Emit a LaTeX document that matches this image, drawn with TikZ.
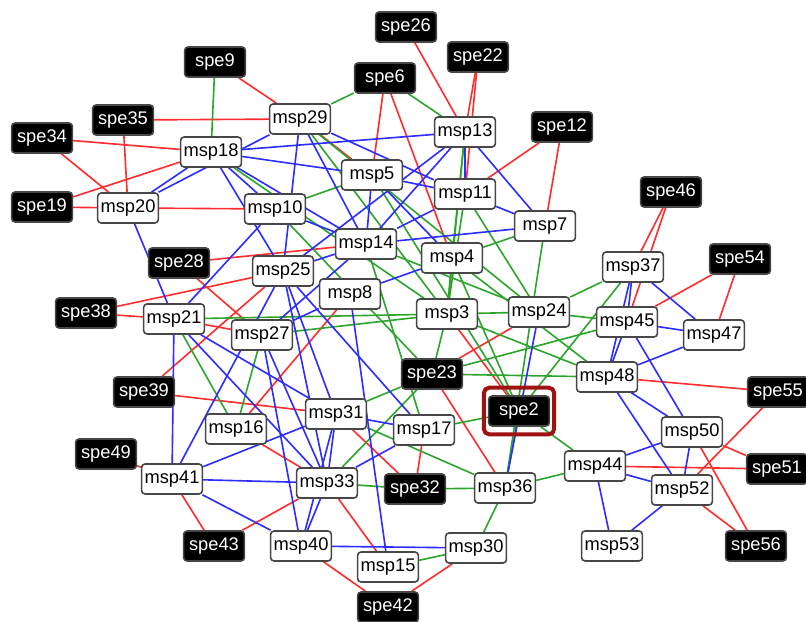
\documentclass[tikz,border=0pt]{standalone}
\usepackage{fontspec}
\setmainfont{Liberation Sans}
\usetikzlibrary{backgrounds}
\definecolor{linkred}{RGB}{255,45,45}
\definecolor{linkgreen}{RGB}{45,165,45}
\definecolor{linkblue}{RGB}{45,45,255}
\definecolor{hilite}{RGB}{160,18,18}

\begin{document}
\begin{tikzpicture}[x=0.025cm,y=-0.025cm,
  msp/.style={draw=black!72,fill=white,rounded corners=2.5pt,line width=1.15pt,
    minimum width=1.52cm,minimum height=0.75cm,inner sep=1pt,
    font=\fontsize{13}{15}\selectfont},
  spe/.style={msp,fill=black,text=white},
  rlink/.style={linkred,line width=1.15pt},
  glink/.style={linkgreen,line width=1.15pt},
  blink/.style={linkblue,line width=1.15pt}]
\useasboundingbox (0,0) rectangle (806,622);
\node[spe] (spe9) at (215,62) {spe9};
\node[spe] (spe26) at (406,27) {spe26};
\node[spe] (spe22) at (478,57) {spe22};
\node[spe] (spe6) at (385,78) {spe6};
\node[spe] (spe12) at (562,127) {spe12};
\node[spe] (spe35) at (123,120) {spe35};
\node[spe] (spe34) at (42,138) {spe34};
\node[spe] (spe19) at (42,207) {spe19};
\node[spe] (spe46) at (671,192) {spe46};
\node[spe] (spe54) at (740,259) {spe54};
\node[spe] (spe28) at (179,263) {spe28};
\node[spe] (spe38) at (86,313) {spe38};
\node[spe] (spe23) at (432,374) {spe23};
\node[spe] (spe39) at (144,392) {spe39};
\node[spe] (spe55) at (778,392) {spe55};
\node[spe] (spe2) at (519,411) {spe2};
\node[spe] (spe49) at (106,454) {spe49};
\node[spe] (spe32) at (415,489) {spe32};
\node[spe] (spe51) at (777,469) {spe51};
\node[spe] (spe43) at (214,546) {spe43};
\node[spe] (spe56) at (756,546) {spe56};
\node[spe] (spe42) at (388,607) {spe42};
\node[msp] (msp29) at (300,119) {msp29};
\node[msp] (msp18) at (211,152) {msp18};
\node[msp] (msp13) at (465,132) {msp13};
\node[msp] (msp5) at (372,175) {msp5};
\node[msp] (msp11) at (465,194) {msp11};
\node[msp] (msp20) at (128,208) {msp20};
\node[msp] (msp10) at (275,209) {msp10};
\node[msp] (msp7) at (545,226) {msp7};
\node[msp] (msp14) at (366,244) {msp14};
\node[msp] (msp4) at (452,258) {msp4};
\node[msp] (msp37) at (633,267) {msp37};
\node[msp] (msp25) at (283,271) {msp25};
\node[msp] (msp8) at (350,294) {msp8};
\node[msp] (msp21) at (174,319) {msp21};
\node[msp] (msp27) at (262,335) {msp27};
\node[msp] (msp3) at (447,314) {msp3};
\node[msp] (msp24) at (539,312) {msp24};
\node[msp] (msp45) at (627,322) {msp45};
\node[msp] (msp47) at (714,335) {msp47};
\node[msp] (msp48) at (607,377) {msp48};
\node[msp] (msp31) at (336,414) {msp31};
\node[msp] (msp16) at (236,429) {msp16};
\node[msp] (msp17) at (424,430) {msp17};
\node[msp] (msp50) at (692,432) {msp50};
\node[msp] (msp41) at (172,479) {msp41};
\node[msp] (msp33) at (327,483) {msp33};
\node[msp] (msp36) at (505,488) {msp36};
\node[msp] (msp44) at (595,466) {msp44};
\node[msp] (msp52) at (682,490) {msp52};
\node[msp] (msp40) at (301,546) {msp40};
\node[msp] (msp15) at (388,567) {msp15};
\node[msp] (msp30) at (476,548) {msp30};
\node[msp] (msp53) at (612,546) {msp53};
\draw[hilite,line width=0.1cm,rounded corners=4pt]
  ([xshift=-0.1cm,yshift=-0.19cm]spe2.south west) rectangle ([xshift=0.1cm,yshift=0.19cm]spe2.north east);
\begin{scope}[on background layer]
\draw[rlink] (spe9) -- (msp29);
\draw[rlink] (spe35) -- (msp29);
\draw[rlink] (spe35) -- (msp20);
\draw[rlink] (spe34) -- (msp18);
\draw[rlink] (spe34) -- (msp20);
\draw[rlink] (spe19) -- (msp18);
\draw[rlink] (spe19) -- (msp20);
\draw[rlink] (msp20) -- (msp10);
\draw[rlink] (spe26) -- (msp13);
\draw[rlink] (spe22) -- (msp13);
\draw[rlink] (spe22) -- (msp11);
\draw[rlink] (spe6) -- (msp5);
\draw[rlink] (spe6) -- (msp4);
\draw[rlink] (msp29) -- (msp5);
\draw[rlink] (spe12) -- (msp11);
\draw[rlink] (spe12) -- (msp7);
\draw[rlink] (spe46) -- (msp37);
\draw[rlink] (spe46) -- (msp45);
\draw[rlink] (spe54) -- (msp45);
\draw[rlink] (spe54) -- (msp47);
\draw[rlink] (spe28) -- (msp14);
\draw[rlink] (spe28) -- (msp27);
\draw[rlink] (spe38) -- (msp25);
\draw[rlink] (spe38) -- (msp21);
\draw[rlink] (msp21) -- (msp27);
\draw[rlink] (spe39) -- (msp25);
\draw[rlink] (spe39) -- (msp31);
\draw[rlink] (msp8) -- (msp16);
\draw[rlink] (msp16) -- (msp33);
\draw[rlink] (msp31) -- (spe32);
\draw[rlink] (msp17) -- (spe32);
\draw[rlink] (msp3) -- (spe2);
\draw[rlink] (spe23) -- (msp36);
\draw[rlink] (spe23) -- (msp24);
\draw[rlink] (msp48) -- (spe55);
\draw[rlink] (msp44) -- (spe51);
\draw[rlink] (msp50) -- (spe51);
\draw[rlink] (msp50) -- (spe56);
\draw[rlink] (msp52) -- (spe56);
\draw[rlink] (msp52) -- (spe55);
\draw[rlink] (spe49) -- (msp41);
\draw[rlink] (msp41) -- (spe43);
\draw[rlink] (spe43) -- (msp33);
\draw[rlink] (msp33) -- (msp15);
\draw[rlink] (msp40) -- (spe42);
\draw[rlink] (msp30) -- (spe42);
\draw[glink] (spe9) -- (msp18);
\draw[glink] (spe6) -- (msp29);
\draw[glink] (spe6) -- (msp13);
\draw[glink] (msp10) -- (msp5);
\draw[glink] (msp18) -- (msp3);
\draw[glink] (msp29) -- (msp3);
\draw[glink] (msp29) -- (msp24);
\draw[glink] (msp5) -- (spe2);
\draw[glink] (msp10) -- (spe23);
\draw[glink] (msp13) -- (msp4);
\draw[glink] (msp13) -- (msp3);
\draw[glink] (msp11) -- (msp3);
\draw[glink] (msp11) -- (msp24);
\draw[glink] (msp4) -- (msp7);
\draw[glink] (msp7) -- (msp36);
\draw[glink] (msp37) -- (msp24);
\draw[glink] (msp37) -- (spe2);
\draw[glink] (msp3) -- (msp24);
\draw[glink] (msp24) -- (msp45);
\draw[glink] (msp21) -- (msp3);
\draw[glink] (msp27) -- (msp3);
\draw[glink] (msp21) -- (msp16);
\draw[glink] (msp27) -- (msp16);
\draw[glink] (msp3) -- (msp4);
\draw[glink] (msp3) -- (msp48);
\draw[glink] (msp4) -- (msp48);
\draw[glink] (msp4) -- (spe2);
\draw[glink] (msp14) -- (msp24);
\draw[glink] (msp14) -- (msp17);
\draw[glink] (spe23) -- (msp45);
\draw[glink] (spe23) -- (msp48);
\draw[glink] (msp3) -- (spe23);
\draw[glink] (spe23) -- (msp33);
\draw[glink] (spe23) -- (msp31);
\draw[glink] (spe2) -- (msp17);
\draw[glink] (spe2) -- (msp36);
\draw[glink] (spe2) -- (msp44);
\draw[glink] (msp36) -- (msp44);
\draw[glink] (msp33) -- (spe32);
\draw[glink] (spe32) -- (msp36);
\draw[glink] (msp36) -- (msp30);
\draw[glink] (msp30) -- (msp15);
\draw[glink] (msp31) -- (msp36);
\draw[blink] (msp18) -- (msp20);
\draw[blink] (msp29) -- (msp20);
\draw[blink] (msp18) -- (msp13);
\draw[blink] (msp18) -- (msp5);
\draw[blink] (msp18) -- (msp10);
\draw[blink] (msp18) -- (msp14);
\draw[blink] (msp18) -- (msp25);
\draw[blink] (msp29) -- (msp25);
\draw[blink] (msp29) -- (msp11);
\draw[blink] (msp29) -- (msp14);
\draw[blink] (msp13) -- (msp14);
\draw[blink] (msp13) -- (msp25);
\draw[blink] (msp13) -- (msp7);
\draw[blink] (msp13) -- (msp11);
\draw[blink] (msp5) -- (msp11);
\draw[blink] (msp5) -- (msp14);
\draw[blink] (msp5) -- (msp4);
\draw[blink] (msp11) -- (msp7);
\draw[blink] (msp11) -- (msp14);
\draw[blink] (msp14) -- (msp7);
\draw[blink] (msp10) -- (msp14);
\draw[blink] (msp10) -- (msp21);
\draw[blink] (msp20) -- (msp21);
\draw[blink] (msp21) -- (msp41);
\draw[blink] (msp21) -- (msp33);
\draw[blink] (msp21) -- (msp31);
\draw[blink] (msp14) -- (msp25);
\draw[blink] (msp14) -- (msp27);
\draw[blink] (msp8) -- (msp27);
\draw[blink] (msp8) -- (msp4);
\draw[blink] (msp8) -- (msp15);
\draw[blink] (msp25) -- (msp41);
\draw[blink] (msp25) -- (msp31);
\draw[blink] (msp25) -- (msp33);
\draw[blink] (msp25) -- (msp17);
\draw[blink] (msp27) -- (msp33);
\draw[blink] (msp27) -- (msp40);
\draw[blink] (msp41) -- (msp31);
\draw[blink] (msp41) -- (msp33);
\draw[blink] (msp41) -- (msp40);
\draw[blink] (msp31) -- (msp33);
\draw[blink] (msp31) -- (msp40);
\draw[blink] (msp31) -- (msp17);
\draw[blink] (msp17) -- (msp33);
\draw[blink] (msp33) -- (msp40);
\draw[blink] (msp40) -- (msp30);
\draw[blink] (msp24) -- (msp36);
\draw[blink] (msp37) -- (msp45);
\draw[blink] (msp37) -- (msp47);
\draw[blink] (msp37) -- (msp48);
\draw[blink] (msp45) -- (msp47);
\draw[blink] (msp45) -- (msp48);
\draw[blink] (msp45) -- (msp50);
\draw[blink] (msp47) -- (msp48);
\draw[blink] (msp48) -- (msp50);
\draw[blink] (msp48) -- (msp52);
\draw[blink] (msp50) -- (msp44);
\draw[blink] (msp50) -- (msp52);
\draw[blink] (msp44) -- (msp52);
\draw[blink] (msp44) -- (msp53);
\draw[blink] (msp52) -- (msp53);
\end{scope}
\end{tikzpicture}
\end{document}
